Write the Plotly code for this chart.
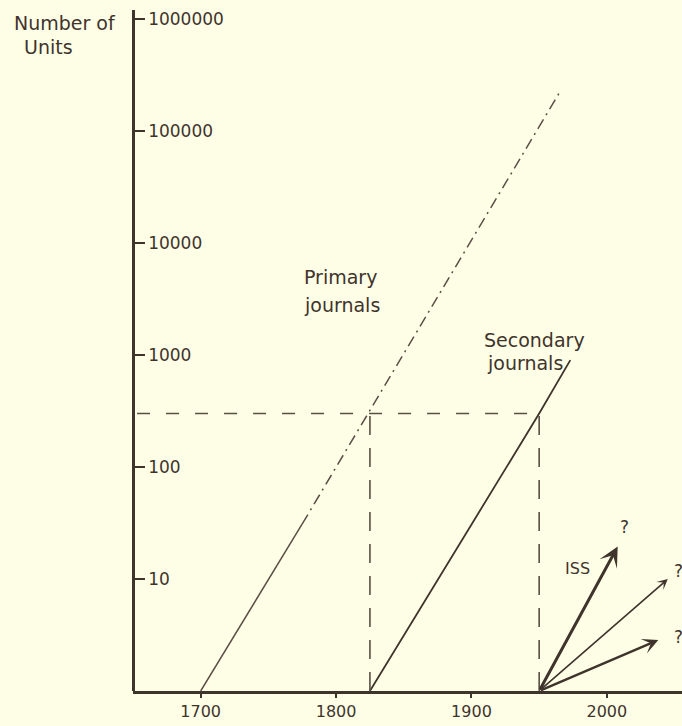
import numpy as np
import plotly.graph_objects as go

# ---------------- data ----------------
y_tick_values = [10, 100, 1000, 10000, 100000, 1000000]
y_tick_labels = ["10", "100", "1000", "10000", "100000", "1000000"]
x_tick_values = [1700, 1800, 1900, 2000]
x_tick_labels = ["1700", "1800", "1900", "2000"]

primary_solid_years = [1700, 1775]
primary_solid_values = [1, 31]
primary_dash_years = [1775, 1965]
primary_dash_values = [31, 220000]

secondary_years = [1825, 1950, 1973]
secondary_values = [1, 300, 900]

reference_level = 300           # level where secondary journals begin / ISS begins
reference_years = [1825, 1950]  # years the two lines reach that level
axis_start_year = 1653

arrow_origin_year = 1950
arrow_origin_value = 1
arrow_tip_years = [2008, 2045, 2038]
arrow_tip_values = [19.5, 10, 2.85]

# ---------------- styling ----------------
BG = "#FEFEE6"
INK = "#3f342c"
LINE = "#5a4e45"
FONT = "DejaVu Sans"

fig = go.Figure()

fig.add_trace(go.Scatter(x=primary_solid_years, y=primary_solid_values, mode="lines",
                         line=dict(color=LINE, width=1.5), hoverinfo="skip", showlegend=False))
fig.add_trace(go.Scatter(x=primary_dash_years, y=primary_dash_values, mode="lines",
                         line=dict(color=LINE, width=1.5, dash="11px,5px,2px,5px"),
                         hoverinfo="skip", showlegend=False))
fig.add_trace(go.Scatter(x=secondary_years, y=secondary_values, mode="lines",
                         line=dict(color=INK, width=1.8), hoverinfo="skip", showlegend=False))

# dashed reference lines
fig.add_trace(go.Scatter(x=[axis_start_year, reference_years[1]], y=[reference_level, reference_level],
                         mode="lines", line=dict(color=LINE, width=1.6, dash="13px,16px"),
                         hoverinfo="skip", showlegend=False))
for yr in reference_years:
    fig.add_trace(go.Scatter(x=[yr, yr], y=[1, reference_level], mode="lines",
                             line=dict(color=LINE, width=1.6, dash="19px,13px"),
                             hoverinfo="skip", showlegend=False))

# arrows from the ISS origin
arrow_widths = [3, 1.6, 2.4]
for i in range(len(arrow_tip_years)):
    fig.add_annotation(x=arrow_tip_years[i], y=np.log10(arrow_tip_values[i]),
                       ax=arrow_origin_year, ay=np.log10(arrow_origin_value),
                       xref="x", yref="y", axref="x", ayref="y",
                       text="", showarrow=True, arrowhead=3, arrowsize=1.1,
                       arrowwidth=arrow_widths[i], arrowcolor=INK, standoff=0, startstandoff=0)

# question marks next to each arrow tip
q_pos = [(2008, 1.46), (2048, 1.07), (2048, 0.48)]
for qx, qy in q_pos:
    fig.add_annotation(x=qx, y=qy, xref="x", yref="y", text="?", showarrow=False,
                       xanchor="left", yanchor="middle", font=dict(family=FONT, size=17, color=INK))

fig.add_annotation(x=1978, y=1.09, xref="x", yref="y", text="ISS", showarrow=False,
                   xanchor="center", yanchor="middle", font=dict(family=FONT, size=16, color=INK))

labels = [("Primary", 1775, 3.70), ("journals", 1775, 3.45),
          ("Secondary", 1908, 3.13), ("journals", 1910, 2.93)]
for t, lx, ly in labels:
    fig.add_annotation(x=lx, y=ly, xref="x", yref="y", text=t, showarrow=False,
                       xanchor="left", yanchor="middle", font=dict(family=FONT, size=19, color=INK))

fig.add_annotation(x=-0.220, y=0.981, xref="paper", yref="paper", text="Number of",
                   showarrow=False, xanchor="left", yanchor="middle",
                   font=dict(family=FONT, size=19, color=INK))
fig.add_annotation(x=-0.202, y=0.946, xref="paper", yref="paper", text="Units",
                   showarrow=False, xanchor="left", yanchor="middle",
                   font=dict(family=FONT, size=19, color=INK))

fig.update_layout(
    width=682, height=726,
    margin=dict(l=133, r=0, t=10, b=35),
    paper_bgcolor=BG, plot_bgcolor=BG,
    font=dict(family=FONT, color=INK),
    xaxis=dict(range=[1650, 2055.5], showgrid=False, zeroline=False,
               showline=True, linecolor=INK, linewidth=2.5,
               tickvals=x_tick_values, ticktext=x_tick_labels,
               ticks="outside", ticklen=4, tickwidth=1.5, tickcolor=INK,
               tickfont=dict(family=FONT, size=16, color=INK)),
    yaxis=dict(type="log", range=[0, 6.08], showgrid=False, zeroline=False,
               side="right", anchor="free", position=0,
               showline=True, linecolor=INK, linewidth=2.5,
               tickvals=y_tick_values, ticktext=y_tick_labels,
               ticks="outside", ticklen=10, tickwidth=2, tickcolor=INK,
               tickfont=dict(family=FONT, size=17, color=INK)),
)

fig.write_html("out.html",
               config={"displayModeBar": False},
               post_script="document.body.style.margin='0px';"
                           "document.body.style.background='#FEFEE6';")
